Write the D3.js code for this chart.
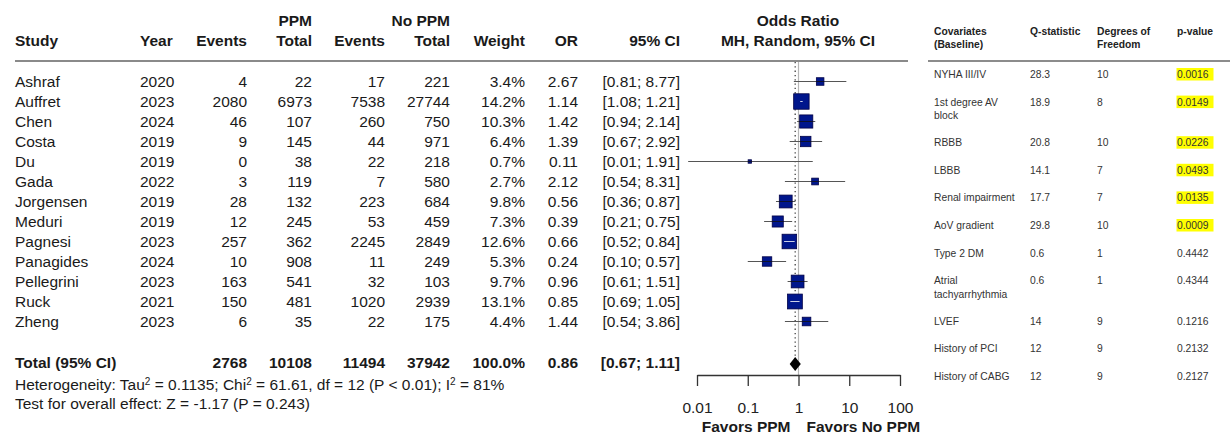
<!DOCTYPE html>
<html>
<head>
<meta charset="utf-8">
<script src="https://cdn.jsdelivr.net/npm/d3@7"></script>
<style>
  body { margin: 0; background: #fff; }
  svg { display: block; font-family: "Liberation Sans", Arial, sans-serif; }
</style>
</head>
<body>
<div id="chart"></div>
<script>
// --- Study data (PPM vs no PPM) ---
const studies    = ["Ashraf", "Auffret", "Chen", "Costa", "Du", "Gada", "Jorgensen", "Meduri", "Pagnesi", "Panagides", "Pellegrini", "Ruck", "Zheng"];
const years      = [2020, 2023, 2024, 2019, 2019, 2022, 2019, 2019, 2023, 2024, 2023, 2021, 2023];
const ppmEvents  = [4, 2080, 46, 9, 0, 3, 28, 12, 257, 10, 163, 150, 6];
const ppmTotal   = [22, 6973, 107, 145, 38, 119, 132, 245, 362, 908, 541, 481, 35];
const noEvents   = [17, 7538, 260, 44, 22, 7, 223, 53, 2245, 11, 32, 1020, 22];
const noTotal    = [221, 27744, 750, 971, 218, 580, 684, 459, 2849, 249, 103, 2939, 175];
const weights    = [3.4, 14.2, 10.3, 6.4, 0.7, 2.7, 9.8, 7.3, 12.6, 5.3, 9.7, 13.1, 4.4];
const oddsRatios = [2.67, 1.14, 1.42, 1.39, 0.11, 2.12, 0.56, 0.39, 0.66, 0.24, 0.96, 0.85, 1.44];
const ciLow      = [0.81, 1.08, 0.94, 0.67, 0.0067, 0.54, 0.36, 0.21, 0.52, 0.10, 0.61, 0.69, 0.54];
const ciHigh     = [8.77, 1.21, 2.14, 2.92, 1.91, 8.31, 0.87, 0.75, 0.84, 0.57, 1.51, 1.05, 3.86];

// Pooled result
const totalCounts = [2768, 10108, 11494, 37942];
const totalWeight = 100.0;
const pooledOR = 0.86;
const pooledCI = [0.67, 1.11];
const axisTicks = [0.01, 0.1, 1, 10, 100];

// --- Meta-regression table ---
const covariates = [["NYHA III/IV"], ["1st degree AV", "block"], ["RBBB"], ["LBBB"], ["Renal impairment"], ["AoV gradient"],
                    ["Type 2 DM"], ["Atrial", "tachyarrhythmia"], ["LVEF"], ["History of PCI"], ["History of CABG"]];
const qStats     = ["28.3", "18.9", "20.8", "14.1", "17.7", "29.8", "0.6", "0.6", "14", "12", "12"];
const dfs        = [10, 8, 10, 7, 7, 10, 1, 1, 9, 9, 9];
const pValues    = ["0.0016", "0.0149", "0.0226", "0.0493", "0.0135", "0.0009", "0.4442", "0.4344", "0.1216", "0.2132", "0.2127"];

const width = 1230, height = 436;
const ink = "#1a1a1a";
const fs = 15.5;

const svg = d3.select("#chart").append("svg")
    .attr("width", width)
    .attr("height", height);

svg.append("rect").attr("width", width).attr("height", height).attr("fill", "#fff");

// Row positions
const y = d3.scalePoint().domain(d3.range(studies.length)).range([87, 327]);
const rowMid = i => y(i) - 5.5;

// Column layout: [x, anchor]
const cols = {
    study: [15, "start"], year: [140, "start"], ev1: [247, "end"], tot1: [312, "end"],
    ev2: [385, "end"], tot2: [450, "end"], weight: [525, "end"], or: [578, "end"], ci: [680, "end"]
};

const main = svg.append("g").attr("font-size", fs).attr("fill", ink);

function put(g, col, yy, txt, bold) {
    return g.append("text")
        .attr("x", cols[col][0])
        .attr("y", yy)
        .attr("text-anchor", cols[col][1])
        .attr("font-weight", bold ? "bold" : null)
        .text(txt);
}

// --- Headers ---
put(main, "tot1", 26, "PPM", true);
put(main, "tot2", 26, "No PPM", true);
[["study", "Study"], ["year", "Year"], ["ev1", "Events"], ["tot1", "Total"], ["ev2", "Events"],
 ["tot2", "Total"], ["weight", "Weight"], ["or", "OR"], ["ci", "95% CI"]]
    .forEach(([c, t]) => put(main, c, 46, t, true));

main.append("text").attr("x", 798).attr("y", 26).attr("text-anchor", "middle")
    .attr("font-weight", "bold").text("Odds Ratio");
main.append("text").attr("x", 798).attr("y", 46).attr("text-anchor", "middle")
    .attr("font-weight", "bold").text("MH, Random, 95% CI");

svg.append("line")
    .attr("x1", 15).attr("x2", 908).attr("y1", 61).attr("y2", 61)
    .attr("stroke", "#8a8a8a").attr("stroke-width", 2.2);

// --- Study rows ---
const f2 = d3.format(".2f");
const f1 = d3.format(".1f");
studies.forEach((s, i) => {
    const yy = y(i);
    put(main, "study", yy, s);
    put(main, "year", yy, years[i]);
    put(main, "ev1", yy, ppmEvents[i]);
    put(main, "tot1", yy, ppmTotal[i]);
    put(main, "ev2", yy, noEvents[i]);
    put(main, "tot2", yy, noTotal[i]);
    put(main, "weight", yy, f1(weights[i]) + "%");
    put(main, "or", yy, f2(oddsRatios[i]));
    put(main, "ci", yy, `[${f2(ciLow[i])}; ${f2(ciHigh[i])}]`);
});

// Total row
const yTot = 368;
put(main, "study", yTot, "Total (95% CI)", true);
["ev1", "tot1", "ev2", "tot2"].forEach((c, k) => put(main, c, yTot, totalCounts[k], true));
put(main, "weight", yTot, f1(totalWeight) + "%", true);
put(main, "or", yTot, f2(pooledOR), true);
put(main, "ci", yTot, `[${f2(pooledCI[0])}; ${f2(pooledCI[1])}]`, true);

// Heterogeneity lines
const het = main.append("text").attr("x", 15).attr("y", 390);
het.append("tspan").text("Heterogeneity: Tau");
het.append("tspan").attr("baseline-shift", "super").attr("font-size", 10).text("2");
het.append("tspan").text(" = 0.1135; Chi");
het.append("tspan").attr("baseline-shift", "super").attr("font-size", 10).text("2");
het.append("tspan").text(" = 61.61, df = 12 (P < 0.01); I");
het.append("tspan").attr("baseline-shift", "super").attr("font-size", 10).text("2");
het.append("tspan").text(" = 81%");
main.append("text").attr("x", 15).attr("y", 409).text("Test for overall effect: Z = -1.17 (P = 0.243)");

// --- Forest plot ---
const x = d3.scaleLog().domain([0.01, 100]).range([697, 900]);
const axisY = 375;
const forest = svg.append("g");

// Line of no effect
forest.append("line")
    .attr("x1", x(1)).attr("x2", x(1)).attr("y1", 62).attr("y2", axisY)
    .attr("stroke", "#b5b5b5").attr("stroke-width", 1.2);

// Pooled estimate (dotted)
forest.append("line")
    .attr("x1", x(pooledOR)).attr("x2", x(pooledOR)).attr("y1", 62).attr("y2", yTot - 10)
    .attr("stroke", "#333").attr("stroke-width", 1.2).attr("stroke-dasharray", "1.3,3");

studies.forEach((s, i) => {
    const cy = rowMid(i);
    const cx = x(oddsRatios[i]);
    const side = 4.1 * Math.sqrt(weights[i]);
    const lo = x(ciLow[i]), hi = x(ciHigh[i]);
    const inside = lo >= cx - side / 2 && hi <= cx + side / 2;

    forest.append("line")
        .attr("x1", lo).attr("x2", hi).attr("y1", cy).attr("y2", cy)
        .attr("stroke", "#555").attr("stroke-width", 1);

    forest.append("rect")
        .attr("x", cx - side / 2).attr("y", cy - side / 2)
        .attr("width", side).attr("height", side)
        .attr("fill", "#00168c").attr("stroke", "#000045").attr("stroke-width", 0.8);

    // CI inside the square (white if it fits fully)
    forest.append("line")
        .attr("x1", Math.max(lo, cx - side / 2)).attr("x2", Math.min(hi, cx + side / 2))
        .attr("y1", cy).attr("y2", cy)
        .attr("stroke", inside ? "#fff" : "#111").attr("stroke-width", 0.8);
});

// Diamond
const dy = yTot - 4;
forest.append("path")
    .attr("d", `M${x(pooledCI[0])},${dy} L${x(pooledOR)},${dy - 7} L${x(pooledCI[1])},${dy} L${x(pooledOR)},${dy + 7} Z`)
    .attr("fill", "#000");

// Axis
const axis = forest.append("g")
    .attr("transform", `translate(0,${axisY})`)
    .call(d3.axisBottom(x).tickValues(axisTicks).tickFormat(d3.format("~g"))
        .tickSize(11).tickSizeOuter(0).tickPadding(16));
axis.select(".domain").attr("stroke", "#333").attr("stroke-width", 1.3);
axis.selectAll(".tick line").attr("stroke", "#333").attr("stroke-width", 1.3);
axis.selectAll(".tick text").attr("font-size", fs).attr("fill", "#222")
    .attr("font-family", "Liberation Sans, Arial, sans-serif");

forest.append("text").attr("x", x(1) - 8).attr("y", 432).attr("text-anchor", "end")
    .attr("font-size", fs).attr("font-weight", "bold").attr("fill", ink).text("Favors PPM");
forest.append("text").attr("x", x(1) + 8).attr("y", 432).attr("text-anchor", "start")
    .attr("font-size", fs).attr("font-weight", "bold").attr("fill", ink).text("Favors No PPM");

// --- Right-hand table ---
const tbl = svg.append("g").attr("font-size", 10.3).attr("fill", "#333");
const tx = [934, 1030, 1097, 1177];

const hdr = [["Covariates", "(Baseline)"], ["Q-statistic"], ["Degrees of", "Freedom"], ["p-value"]];
hdr.forEach((lines, k) => {
    lines.forEach((t, j) => {
        tbl.append("text").attr("x", tx[k]).attr("y", 35 + j * 13)
            .attr("font-weight", "bold").attr("fill", "#222").text(t);
    });
});

svg.append("line")
    .attr("x1", 928).attr("x2", 1230).attr("y1", 61).attr("y2", 61)
    .attr("stroke", "#666").attr("stroke-width", 1.5);

let ry = 78;
covariates.forEach((lines, i) => {
    lines.forEach((t, j) => {
        tbl.append("text").attr("x", tx[0]).attr("y", ry + j * 13.5).text(t);
    });
    tbl.append("text").attr("x", tx[1]).attr("y", ry).text(qStats[i]);
    tbl.append("text").attr("x", tx[2]).attr("y", ry).text(dfs[i]);
    if (+pValues[i] < 0.05) {
        tbl.append("rect").attr("x", tx[3] - 0.5).attr("y", ry - 10)
            .attr("width", 37).attr("height", 12.5).attr("fill", "#ffff00");
    }
    tbl.append("text").attr("x", tx[3]).attr("y", ry).text(pValues[i]);
    ry += 27.6 + 13 * (lines.length - 1);
});
</script>
</body>
</html>
